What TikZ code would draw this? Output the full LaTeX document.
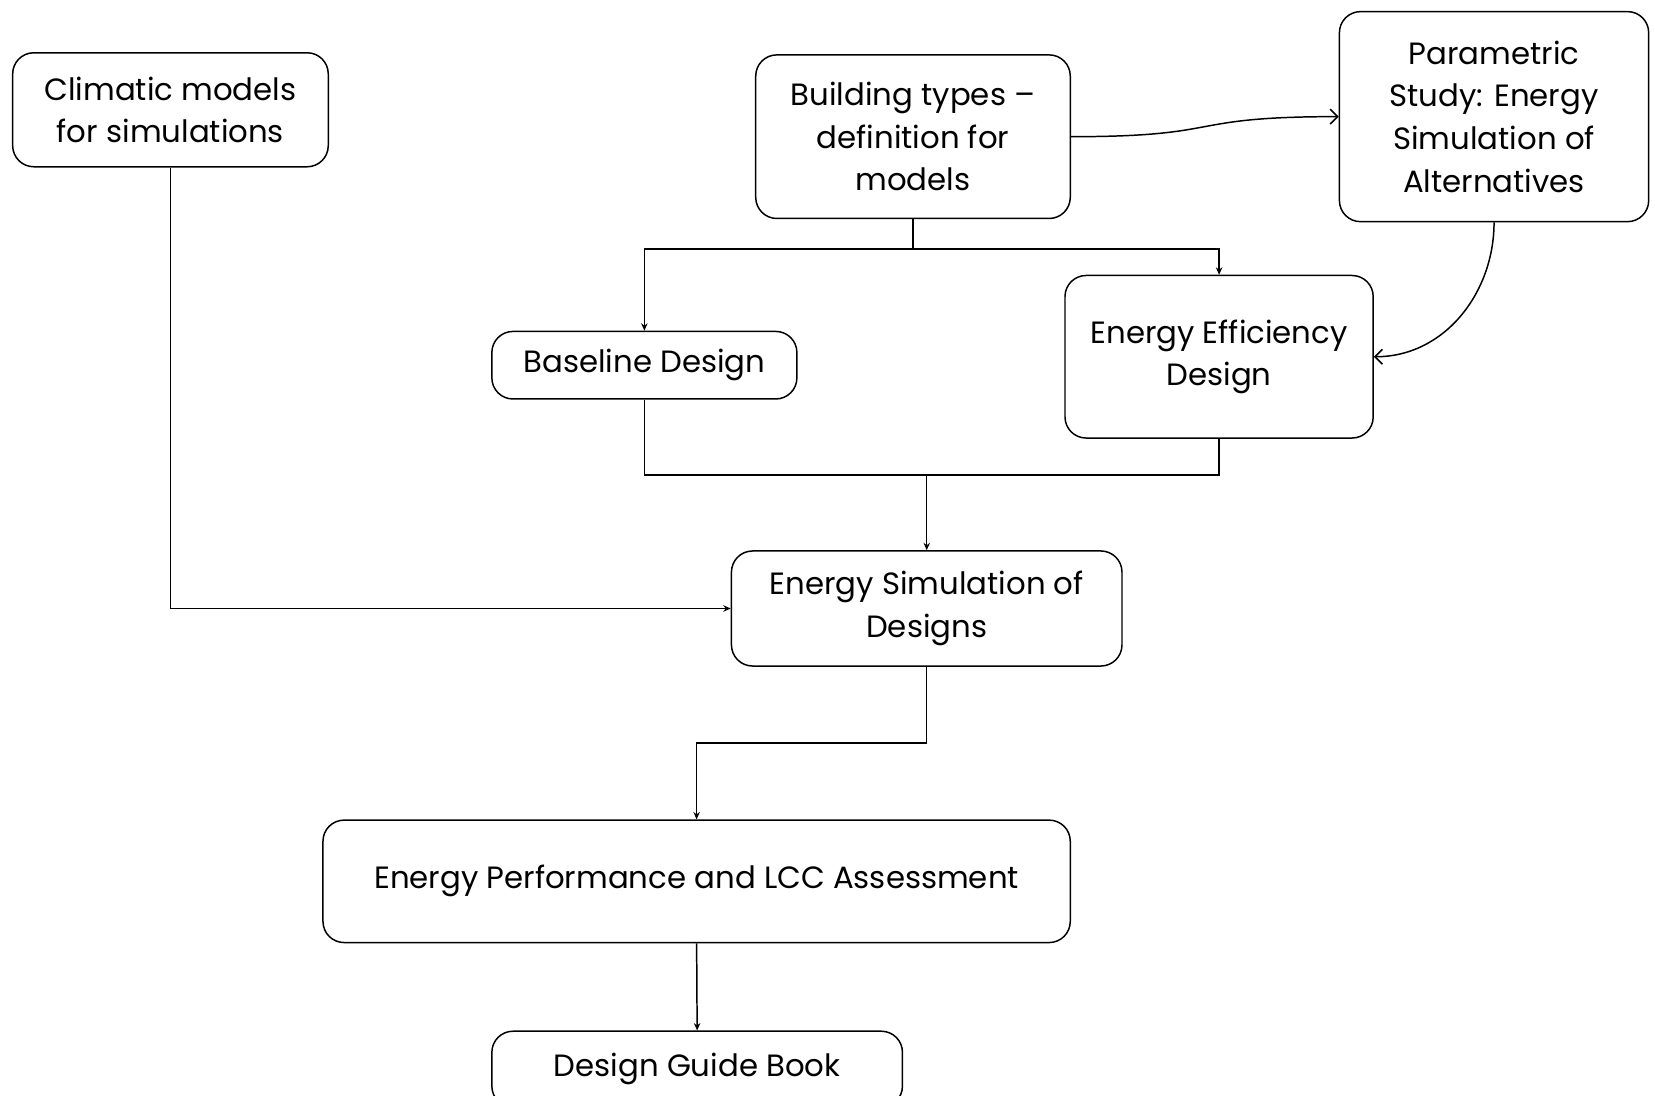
\documentclass[tikz,border=0pt]{standalone}
\usepackage{fontspec}
\setmainfont{Poppins}
\usepackage{tikz}
\usetikzlibrary{arrows.meta}

\begin{document}
\begin{tikzpicture}[x=0.02cm, y=-0.02cm, line width=0.8pt, >={Stealth[length=4pt,width=3.5pt]},
        block/.style={draw, rounded corners=0.4cm, align=center, inner sep=0pt,
            font=\fontsize{16.6}{23}\selectfont}]
        \useasboundingbox (0,0) rectangle (1568,1038);

        % Nodes
        \node[block, minimum width=299*0.02cm, minimum height=108*0.02cm] (clim) at (161.5,104) {Climatic models\\for simulations};
        \node[block, minimum width=298*0.02cm, minimum height=155*0.02cm] (build) at (865,129.5) {Building types --\\definition for\\models};
        \node[block, minimum width=293*0.02cm, minimum height=199*0.02cm] (param) at (1415.5,110.5) {Parametric\\Study: Energy\\Simulation of\\Alternatives};
        \node[block, minimum width=289*0.02cm, minimum height=64*0.02cm] (base) at (610.5,346) {Baseline Design};
        \node[block, minimum width=292*0.02cm, minimum height=154*0.02cm] (eff) at (1155,338) {Energy Efficiency\\Design};
        \node[block, minimum width=370*0.02cm, minimum height=109*0.02cm] (esim) at (878,576.5) {Energy Simulation of\\Designs};
        \node[block, minimum width=708*0.02cm, minimum height=116*0.02cm] (perf) at (660,835) {Energy Performance and LCC Assessment};
        \node[block, minimum width=389*0.02cm, minimum height=72*0.02cm] (guide) at (660.5,1013) {Design Guide Book};

        \coordinate (join) at (878,450);

        % Directed edges
        \draw[->] (build.south) -- ++(0,28) -| (base.north);
        \draw[->] (build.south) -- ++(0,28) -| (eff.north);
        \draw[-{Straight Barb[length=4pt]}] (build.east) .. controls +(150,0) and +(-150,0) .. (param.west);
        \draw[-{Straight Barb[length=4pt]}] (param.south) to[out=-90, in=0] (eff.east);
        \draw (base.south) |- (join) -| (eff.south);
        \draw[->] (join) -- (esim.north);
        \draw[->] (clim.south) |- (esim.west);
        \draw[->] (esim.south) -- ++(0,72) -| (perf.north);
        \draw[->] (perf.south) -- (guide.north);
    \end{tikzpicture}
\end{document}
